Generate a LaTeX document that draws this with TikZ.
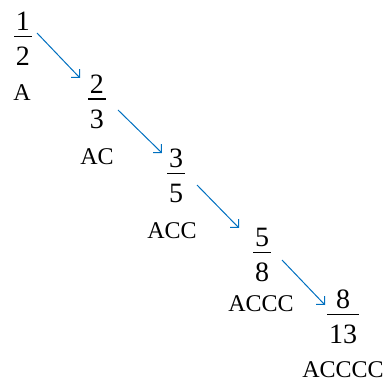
\documentclass[tikz,border=0pt]{standalone}
\usepackage{fontspec}
\setmainfont{Liberation Serif}
\usetikzlibrary{arrows.meta}
\definecolor{arrowblue}{RGB}{0,112,192}
\newcommand{\frc}[2]{\vbox{\offinterlineskip\halign{\kern1pt\hfil##\hfil\kern1pt\cr #1\cr\noalign{\kern2.5pt\hrule height 0.7pt\kern5pt}#2\cr}}}
\tikzset{
  fracnode/.style={inner sep=0pt,font=\fontsize{14}{16}\selectfont},
  word/.style={inner sep=0pt,font=\fontsize{12}{14}\selectfont},
  arr/.style={arrowblue,line width=0.5pt,-{Straight Barb[angle=90:4.2pt]}}
}
\begin{document}
\begin{tikzpicture}[x=0.5pt,y=-0.5pt]
\useasboundingbox (0,0) rectangle (386,385);

\node[fracnode] (f1) at (23,39) {\frc{1}{2}};
\node[fracnode] (f2) at (97,101.5) {\frc{2}{3}};
\node[fracnode] (f3) at (176,176) {\frc{3}{5}};
\node[fracnode] (f4) at (262,255) {\frc{5}{8}};
\node[fracnode] (f5) at (343,317) {\frc{8}{13}};

\node[word] (w1) at (22,93) {A};
\node[word] (w2) at (97,157) {AC};
\node[word] (w3) at (172,231) {ACC};
\node[word] (w4) at (261,303.5) {ACCC};
\node[word] (w5) at (343,369.5) {ACCCC};

\draw[arr] ([shift={(14,-6)}]f1.center) -- ([shift={(-17,-23.5)}]f2.center);
\draw[arr] ([shift={(21,8.5)}]f2.center) -- ([shift={(-14,-23)}]f3.center);
\draw[arr] ([shift={(21,9)}]f3.center) -- ([shift={(-23,-27)}]f4.center);
\draw[arr] ([shift={(20,5)}]f4.center) -- ([shift={(-18,-12)}]f5.center);
\end{tikzpicture}
\end{document}
